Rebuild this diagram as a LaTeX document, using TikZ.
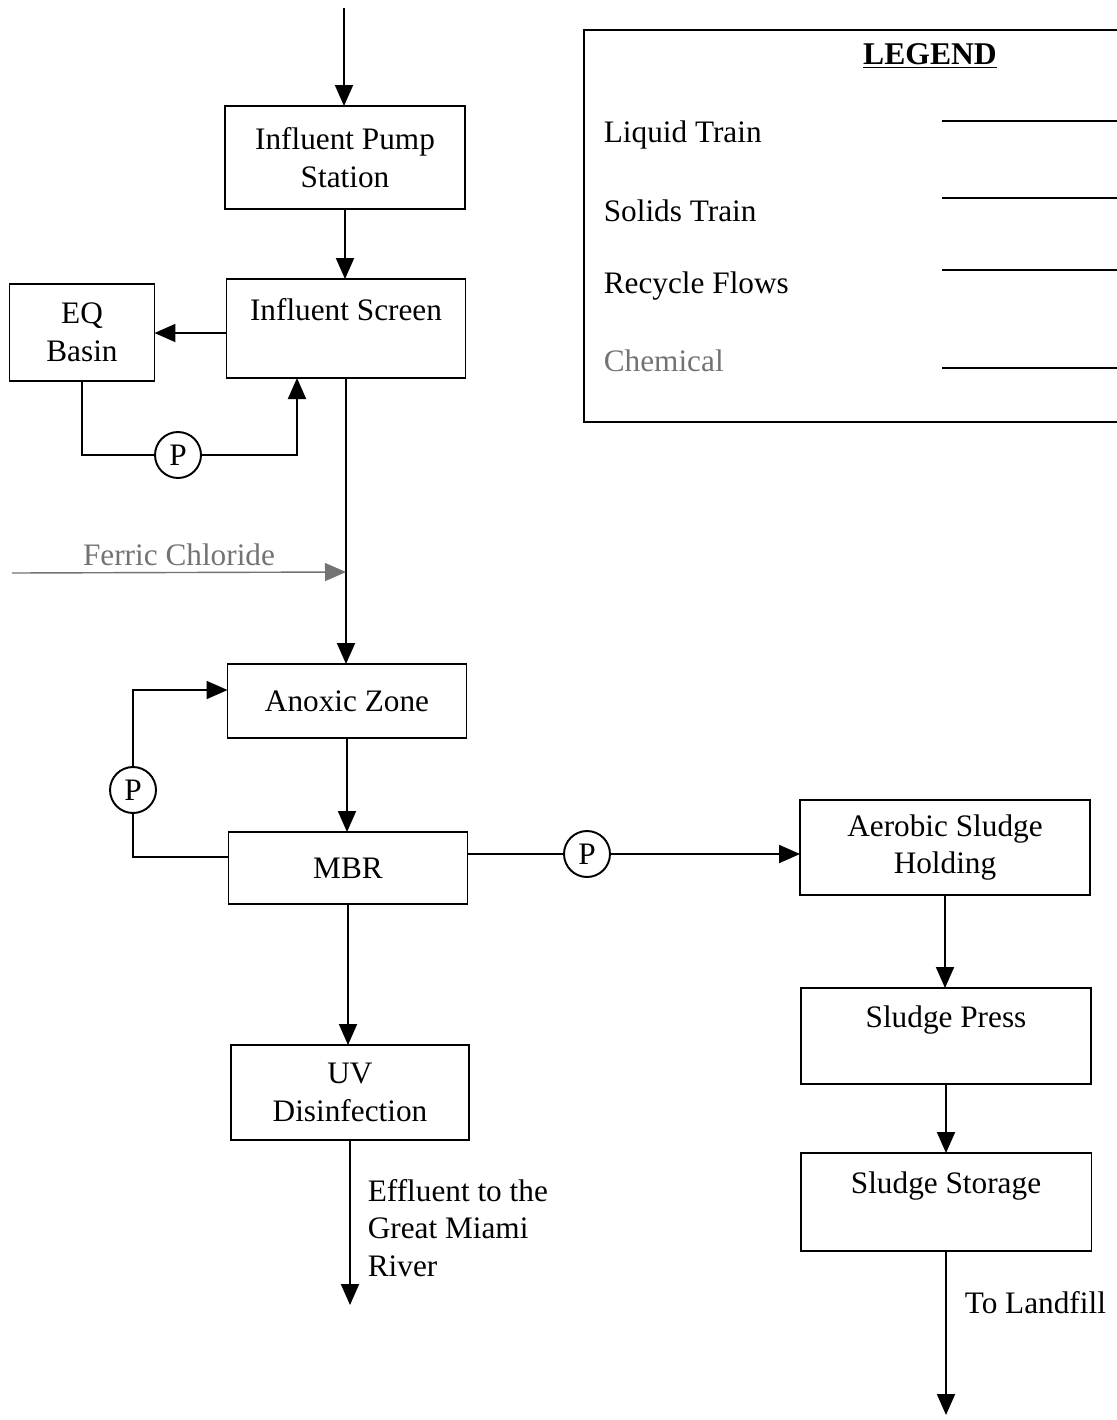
\documentclass[tikz,border=0pt]{standalone}
\usepackage{fontspec}
\setmainfont{Liberation Serif}
\usetikzlibrary{arrows.meta}
\begin{document}
\begin{tikzpicture}[x=0.02cm, y=-0.02cm, line width=1.1pt,
    >={Triangle[length=4.2mm,width=3.6mm]},
    every node/.style={font=\fontsize{17.8}{21.5}\selectfont},
    unit/.style={draw, rectangle, align=center, inner sep=0pt, outer sep=0pt},
    pump/.style={draw, circle, minimum size=0.92cm, inner sep=0pt, outer sep=0pt},
    chem/.style={draw=black!55, text=black!55, line width=0.8pt}]
            \useasboundingbox (0,0) rectangle (1116,1420);
            % Nodes
            \node[unit, minimum width=4.8cm, minimum height=2.06cm] (pumpst) at (345,157.5) {Influent Pump\\Station};
            \node[unit, minimum width=4.78cm, minimum height=1.98cm] (screen) at (346,328.5) {Influent Screen\\~};
            \node[unit, minimum width=2.9cm, minimum height=1.94cm] (eq) at (82,332.5) {EQ\\Basin};
            \node[pump] (p1) at (178,455) {P};
            \node[unit, minimum width=4.78cm, minimum height=1.48cm] (anoxic) at (347,701) {Anoxic Zone};
            \node[unit, minimum width=4.78cm, minimum height=1.44cm] (mbr) at (348,868) {MBR};
            \node[pump] (p2) at (133,790) {P};
            \node[pump] (p3) at (587,854) {P};
            \node[unit, minimum width=4.76cm, minimum height=1.9cm] (uv) at (350,1092.5) {UV\\Disinfection};
            \node[unit, minimum width=5.8cm, minimum height=1.9cm] (aerobic) at (945,847.5) {Aerobic Sludge\\Holding};
            \node[unit, minimum width=5.8cm, minimum height=1.92cm] (press) at (946,1036) {Sludge Press\\~};
            \node[unit, minimum width=5.82cm, minimum height=1.96cm] (storage) at (946,1202) {Sludge Storage\\~};
            \node[anchor=west, align=left] (effl) at (361,1228) {Effluent to the\\Great Miami\\River};
            \node[anchor=west] (landfill) at (958,1303) {To Landfill};
            \coordinate (inflow) at (344,8);
            \coordinate (eqret) at (297,378);
            \coordinate (fecl) at (12,573);
            \coordinate (dose) at (346,572);
            \coordinate (river) at (350,1305);
            \coordinate (tip) at (946,1415);
            % Legend
            \draw (1120,30) -| (584,422) -- (1120,422);
            \node[font=\fontsize{18}{21.5}\selectfont\bfseries] (legend) at (930,56) {\underline{LEGEND}};
            \node[anchor=west] (liquid) at (597,135) {Liquid Train};
            \node[anchor=west] (solids) at (597,211) {Solids Train};
            \node[anchor=west] (recycle) at (597,286) {Recycle Flows};
            \node[anchor=west, text=black!55] (chemical) at (597,361) {Chemical};
            \foreach \y in {121,198,270,368}
                \draw (942,\y) -- (1120,\y);
            % Edges
            \draw[->] (inflow) -- (inflow |- pumpst.north);
            \draw[->] (pumpst.south) -- (pumpst.south |- screen.north);
            \draw[->] (screen.west |- 0,333) -- (eq.east |- 0,333);
            \draw (eq.south) |- (p1.west);
            \draw[->] (p1.east) -| (eqret);
            \draw[->] (screen.south) -- (screen.south |- anoxic.north);
            \draw[chem, ->] (fecl) -- node[above, draw=none, pos=0.5] {Ferric Chloride} (dose);
            \draw[->] (anoxic.south) -- (anoxic.south |- mbr.north);
            \draw ([yshift=0.22cm]mbr.west) -| (p2.south);
            \draw[->] (p2.north) |- ([yshift=0.22cm]anoxic.west);
            \draw ([yshift=0.28cm]mbr.east) -- (p3.west);
            \draw[->] (p3.east) -- (p3.east -| aerobic.west);
            \draw[->] (mbr.south) -- (mbr.south |- uv.north);
            \draw[->] (uv.south) -- (river);
            \draw[->] (aerobic.south) -- (aerobic.south |- press.north);
            \draw[->] (press.south) -- (press.south |- storage.north);
            \draw[->] (storage.south) -- (tip);
\end{tikzpicture}
\end{document}
